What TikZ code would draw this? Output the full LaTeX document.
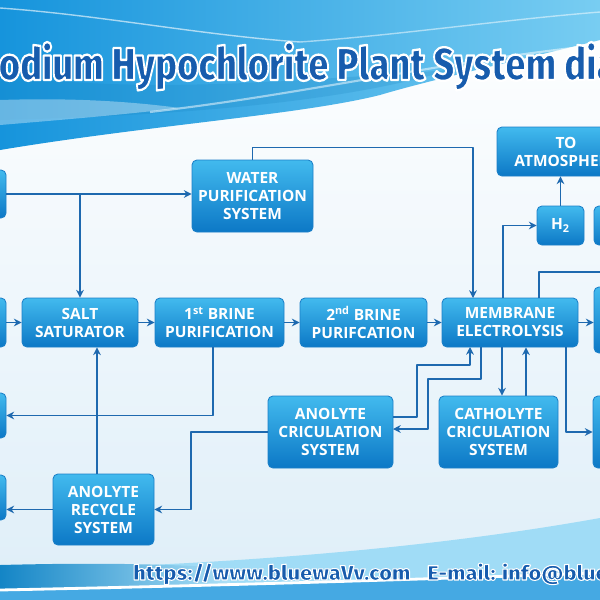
\documentclass[tikz,border=0pt]{standalone}
\usepackage{fontspec}
\setsansfont{Open Sans}
\IfFontExistsTF{Fira Sans Black}
  {\newfontfamily\titlefont{Fira Sans Black}[FakeBold=5]}
  {\IfFontExistsTF{Fira Sans ExtraBold}
    {\newfontfamily\titlefont{Fira Sans ExtraBold}[FakeBold=5]}
    {\IfFontExistsTF{Lato Black}
      {\newfontfamily\titlefont{Lato Black}[FakeBold=5]}
      {\newfontfamily\titlefont{Fira Sans}[UprightFont=* Bold, UprightFeatures={FakeBold=3}]}}}
\usepackage{graphicx}
\usepackage{xcolor}
\usepackage{tikz}
\usetikzlibrary{arrows.meta}

\definecolor{flowblue}{RGB}{30,105,175}
\definecolor{boxtop}{RGB}{66,186,238}
\definecolor{boxbot}{RGB}{12,120,198}
\definecolor{boxedge}{RGB}{28,128,200}
\definecolor{skyA}{RGB}{22,148,220}
\definecolor{skyB}{RGB}{120,205,242}
\definecolor{paleblue}{RGB}{222,238,248}

% halo text: dark blue fill, white stroke (xdvipdfmx)
\def\halo#1{\special{pdf:bcolor [0.09 0.36 0.68] [1 1 1]}#1\special{pdf:ecolor}}

\tikzset{
  box/.style={draw=boxedge, line width=0.6pt, rounded corners=3.5pt,
    top color=boxtop, bottom color=boxbot, text=white, align=center,
    inner sep=0pt, font=\sffamily\bfseries\fontsize{11}{12.8}\selectfont},
  flow/.style={draw=flowblue, line width=1.2pt, -{Stealth[length=5.5pt,width=5.5pt]}},
  pipe/.style={draw=flowblue, line width=1.2pt},
  banner/.style={anchor=base west, inner sep=0pt, font=\titlefont},
}
\def\px{0.025cm}

\begin{document}
\begin{tikzpicture}[x=\px, y=-\px, line join=round]

\useasboundingbox (0,0) rectangle (600,600);
\clip (0,0) rectangle (600,600);

% Sfondo
\shade[top color=white, bottom color=paleblue] (0,0) rectangle (600,600);

% Banner in alto
\shade[left color=skyA, right color=skyB]
  (0,0) -- (600,0) -- (600,40) .. controls (520,60) and (430,80) .. (380,95)
  .. controls (300,115) and (150,125) .. (0,150) -- cycle;
\fill[skyA!85!black, opacity=.2]
  (0,75) .. controls (150,95) and (300,80) .. (450,70)
  .. controls (350,100) and (200,115) .. (0,120) -- cycle;
\fill[white, opacity=.35]
  (0,100) .. controls (60,98) and (120,100) .. (180,108)
  .. controls (120,115) and (60,120) .. (0,125) -- cycle;
\draw[white, opacity=.6, line width=1pt]
  (0,8) .. controls (100,15) and (200,35) .. (300,42);
\draw[white, opacity=.5, line width=1pt]
  (300,42) .. controls (400,35) and (500,20) .. (600,12);
\draw[white, opacity=.5, line width=1.5pt]
  (150,112) .. controls (300,95) and (450,60) .. (600,45);

% Banda in basso
\fill[skyB!70!white]
  (0,570) .. controls (250,565) and (450,545) .. (600,518) -- (600,600) -- (0,600) -- cycle;
\shade[left color=skyA!90!black, right color=skyB!60!white]
  (0,565) .. controls (80,563) and (150,563) .. (230,568) -- (230,586) -- (0,589) -- cycle;
\fill[skyA!80!white]
  (0,591) .. controls (200,587) and (400,581) .. (600,574) -- (600,600) -- (0,600) -- cycle;
\draw[white, line width=2pt]
  (0,590) .. controls (200,586) and (400,580) .. (600,573);

% Titolo e piede
\node[banner] (title) at (-23,80)
  {\resizebox{18.1cm}{0.95cm}{\halo{Sodium Hypochlorite Plant System diagram}}};
\node[banner] (web) at (133,580)
  {\resizebox{6.925cm}{0.425cm}{\halo{https://www.bluewaVv.com}}};
\node[banner] (mail) at (427,580)
  {\resizebox{6.95cm}{0.425cm}{\halo{E-mail: info@bluewaVv.com}}};

% Blocchi
\node[box, minimum width=52*\px, minimum height=48*\px] (a) at (-20,194) {};
\node[box, minimum width=52*\px, minimum height=49*\px] (b) at (-20,322.5) {};
\node[box, minimum width=52*\px, minimum height=45*\px] (c) at (-20,415.5) {};
\node[box, minimum width=52*\px, minimum height=45*\px] (d) at (-20,497.5) {};

\node[box, minimum width=121*\px, minimum height=72*\px] (water) at (252.5,196)
  {WATER\\PURIFICATION\\SYSTEM};
\node[box, minimum width=116*\px, minimum height=49*\px] (salt) at (80,322.5)
  {SALT\\SATURATOR};
\node[box, minimum width=129*\px, minimum height=49*\px] (brineA) at (219.5,322.5)
  {1\textsuperscript{st} BRINE\\PURIFICATION};
\node[box, minimum width=127*\px, minimum height=49*\px] (brineB) at (363.5,322.5)
  {2\textsuperscript{nd} BRINE\\PURIFCATION};
\node[box, minimum width=136*\px, minimum height=49*\px] (mem) at (510,322.5)
  {MEMBRANE\\ELECTROLYSIS};
\node[box, minimum width=138*\px, minimum height=49*\px] (atmo) at (566,151.5)
  {TO\\ATMOSPHERE};
\node[box, minimum width=47*\px, minimum height=39*\px] (h2) at (560.5,225.5)
  {H\textsubscript{2}};
\node[box, minimum width=52*\px, minimum height=39*\px] (r1) at (620,225.5) {};
\node[box, minimum width=72*\px, minimum height=66*\px] (r2) at (630,320) {};
\node[box, minimum width=74*\px, minimum height=72*\px] (r3) at (630,432) {};
\node[box, minimum width=125*\px, minimum height=72*\px] (acirc) at (330.5,432)
  {ANOLYTE\\CRICULATION\\SYSTEM};
\node[box, minimum width=119*\px, minimum height=72*\px] (cath) at (498.5,432)
  {CATHOLYTE\\CRICULATION\\SYSTEM};
\node[box, minimum width=101*\px, minimum height=71*\px] (recycle) at (103.5,509.5)
  {ANOLYTE\\RECYCLE\\SYSTEM};

% Punti di attacco
\coordinate (memA) at (473,298);
\coordinate (memH) at (503,298);
\coordinate (memC) at (539,298);
\coordinate (clOut) at (610,272);
\coordinate (brOut) at (213,347);
\coordinate (rcTop) at (97,474);
\coordinate (acOut) at (393,417);
\coordinate (acIn) at (393,429);
\coordinate (memIn) at (470,347);
\coordinate (memOut) at (481,347);
\coordinate (memCat) at (502,347);
\coordinate (catUp) at (526,396);
\coordinate (memR) at (566,347);
\coordinate (split) at (salt.north |- a.east);

% Linee principali
\draw[flow] (a.east) -- (a.east -| water.west);
\draw[flow] (split) -- (salt.north);
\draw[flow] (water.north) -- ++(0,-12) -| (memA);
\draw[flow] (b) -- (salt);
\draw[flow] (salt) -- (brineA);
\draw[flow] (brineA) -- (brineB);
\draw[flow] (brineB) -- (mem);
\draw[flow] (mem.east) -- (mem.east -| r2.west);

% Gas
\draw[flow] (memH) |- (h2.west);
\draw[flow] (h2.north) -- (h2.north |- atmo.south);
\draw[pipe] (memC) |- (clOut);

% Ricircoli
\draw[flow] (brOut) |- (c.east);
\draw[flow] (rcTop) -- (rcTop |- salt.south);
\draw[flow] (recycle.west) -- (recycle.west -| d.east);
\draw[flow] (acirc.west) -| (191,470) |- (recycle.east);
\draw[flow] (acOut) -| (417,365) -| (memIn);
\draw[flow] (memOut) |- (428,379) |- (acIn);
\draw[flow] (memCat) -- (memCat |- cath.north);
\draw[flow] (catUp) -- (catUp |- mem.south);
\draw[flow] (memR) |- (r3.west);

\end{tikzpicture}
\end{document}
